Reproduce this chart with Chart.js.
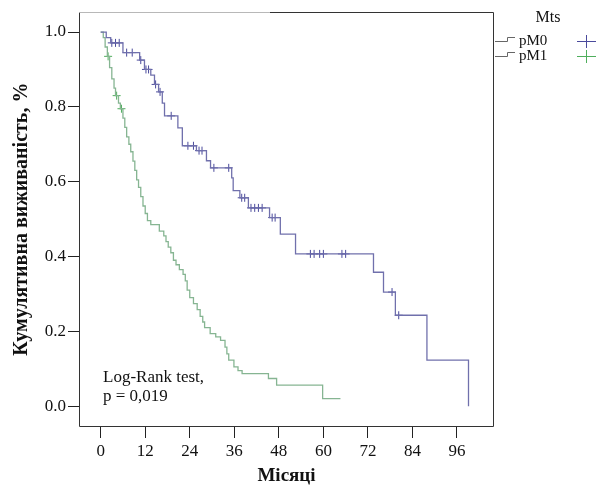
<!DOCTYPE html>
<html><head><meta charset="utf-8">
<script src="https://cdn.jsdelivr.net/npm/chart.js@4"></script>
<style>html,body{margin:0;padding:0;background:#fff}#wrap{width:601px;height:491px;position:relative}</style>
</head><body><div id="wrap"><canvas id="c" width="601" height="491"></canvas></div>
<script>
const xTicks = [0, 12, 24, 36, 48, 60, 72, 84, 96];
const yTicks = [0, 0.2, 0.4, 0.6, 0.8, 1.0];
const seriesNames = ['pM0', 'pM1'];
const legendTitle = 'Mts';
const xTitle = 'Місяці';
const yTitle = 'Кумулятивна виживаність, %';
const noteLines = ['Log-Rank test,', 'p = 0,019'];

// pM0: step points (time in months, cumulative survival)
const pm0Time = [0, 1.5, 2.7, 6, 10.5, 11.8, 13.5, 14.5, 15.6, 16.6, 17.2, 20.8, 22, 25.8, 28.5, 29.6, 35.3, 35.7, 37.5, 39.8, 45.5, 48.4, 52.5, 73.5, 76.2, 79.4, 87.9, 99.1];
const pm0Surv = [1.0, 0.985, 0.971, 0.945, 0.925, 0.90, 0.885, 0.86, 0.84, 0.81, 0.776, 0.744, 0.696, 0.683, 0.656, 0.637, 0.61, 0.576, 0.557, 0.53, 0.504, 0.46, 0.407, 0.358, 0.305, 0.243, 0.123, 0.0];
const pm0CensTime = [3, 4, 5, 7, 8.5, 10.8, 12.2, 12.9, 14.8, 16, 19, 23.5, 25, 26.5, 27.3, 30.5, 34.5, 38, 38.8, 40.5, 41.5, 42.5, 43.5, 46.2, 47, 56.5, 57.5, 59, 60, 65, 66, 78.5, 80.3];
const pm0CensSurv = [0.971, 0.971, 0.971, 0.945, 0.945, 0.925, 0.90, 0.90, 0.86, 0.84, 0.776, 0.696, 0.696, 0.683, 0.683, 0.637, 0.637, 0.557, 0.557, 0.53, 0.53, 0.53, 0.53, 0.504, 0.504, 0.407, 0.407, 0.407, 0.407, 0.407, 0.407, 0.305, 0.243];

// pM1
const pm1Time = [0, 0.7, 1.2, 1.8, 2.4, 3.0, 3.6, 4.0, 4.8, 5.3, 6.0, 6.5, 7.0, 7.6, 8.1, 8.7, 9.2, 9.7, 10.2, 10.8, 11.4, 12.0, 12.6, 13.5, 15.8, 17.0, 17.6, 18.2, 18.9, 19.6, 20.3, 21.2, 22.2, 22.8, 23.3, 24.0, 25.0, 26.0, 26.8, 27.5, 28.0, 29.5, 31.0, 32.3, 33.5, 34.0, 34.5, 35.9, 37.0, 38.1, 45.2, 47.4, 59.8, 64.6];
const pm1Surv = [1.0, 0.985, 0.96, 0.935, 0.905, 0.875, 0.85, 0.83, 0.81, 0.795, 0.77, 0.745, 0.72, 0.70, 0.68, 0.655, 0.63, 0.605, 0.585, 0.56, 0.535, 0.515, 0.496, 0.485, 0.468, 0.455, 0.44, 0.425, 0.41, 0.39, 0.378, 0.365, 0.352, 0.335, 0.31, 0.29, 0.274, 0.258, 0.24, 0.225, 0.21, 0.194, 0.185, 0.176, 0.158, 0.14, 0.123, 0.105, 0.095, 0.087, 0.074, 0.056, 0.02, 0.02];
const pm1CensTime = [2.0, 4.3, 5.6];
const pm1CensSurv = [0.935, 0.83, 0.795];

const pm0Color = '#7070ac';
const pm0Mark = '#4a4a9c';
const pm1Color = '#86b592';
const pm1Mark = '#4fae5c';

const zip = (a, b) => a.map((v, i) => ({x: v, y: b[i]}));
const serif = '"Liberation Serif", "DejaVu Serif", serif';

const framePlugin = {
  id: 'frame',
  afterDraw(chart) {
    const {ctx, chartArea: a} = chart;
    const L = Math.round(a.left) - 0.5, R = Math.round(a.right) + 0.5;
    const T = Math.round(a.top) + 0.5, B = Math.round(a.bottom) + 0.5;
    ctx.save();
    ctx.lineWidth = 1;
    ctx.strokeStyle = '#333';
    ctx.beginPath();
    ctx.moveTo(270, T); ctx.lineTo(R, T); ctx.lineTo(R, B); ctx.lineTo(L, B); ctx.lineTo(L, T);
    ctx.stroke();
    ctx.strokeStyle = '#b8b8b8';
    ctx.beginPath();
    ctx.moveTo(L, T); ctx.lineTo(270, T);
    ctx.stroke();
    // annotation
    ctx.fillStyle = '#111';
    ctx.font = '17px ' + serif;
    ctx.textAlign = 'left';
    ctx.textBaseline = 'middle';
    ctx.fillText(noteLines[0], 103, 378);
    ctx.fillText(noteLines[1], 103, 397);
    // legend
    ctx.font = '16px ' + serif;
    ctx.textAlign = 'center';
    ctx.fillText(legendTitle, 548, 18);
    const rows = [41, 56];
    const marks = [pm0Mark, pm1Mark];
    ctx.font = '15px ' + serif;
    ctx.textAlign = 'left';
    rows.forEach((y, i) => {
      ctx.strokeStyle = '#666';
      ctx.beginPath();
      ctx.moveTo(495, y + 0.5); ctx.lineTo(507.5, y + 0.5); ctx.lineTo(507.5, y - 3.5); ctx.lineTo(515, y - 3.5);
      ctx.stroke();
      ctx.fillStyle = '#111';
      ctx.fillText(seriesNames[i], 519, y);
      ctx.strokeStyle = marks[i];
      ctx.beginPath();
      ctx.moveTo(577, y + 0.5); ctx.lineTo(596, y + 0.5);
      ctx.moveTo(586.5, y - 6); ctx.lineTo(586.5, y + 7);
      ctx.stroke();
    });
    ctx.restore();
  }
};

new Chart(document.getElementById('c'), {
  type: 'line',
  data: {
    datasets: [
      {label: seriesNames[0], data: zip(pm0Time, pm0Surv), stepped: true, borderColor: pm0Color, borderWidth: 1.3, pointRadius: 0, fill: false},
      {label: seriesNames[1], data: zip(pm1Time, pm1Surv), stepped: true, borderColor: pm1Color, borderWidth: 1.3, pointRadius: 0, fill: false},
      {label: seriesNames[0] + ' censored', data: zip(pm0CensTime, pm0CensSurv), showLine: false, pointStyle: 'cross', pointRadius: 4, borderColor: pm0Mark, borderWidth: 1},
      {label: seriesNames[1] + ' censored', data: zip(pm1CensTime, pm1CensSurv), showLine: false, pointStyle: 'cross', pointRadius: 4, borderColor: pm1Mark, borderWidth: 1}
    ]
  },
  options: {
    responsive: false,
    devicePixelRatio: 1,
    animation: false,
    layout: {padding: {top: 11, right: 108, bottom: 0, left: 0}},
    plugins: {legend: {display: false}, tooltip: {enabled: false}},
    scales: {
      x: {
        type: 'linear', min: -5.57, max: 105.7,
        afterBuildTicks: s => { s.ticks = xTicks.map(v => ({value: v})); },
        afterFit: s => { s.height = 65; },
        border: {display: false},
        grid: {display: true, drawOnChartArea: false, drawTicks: true, tickLength: 12, color: '#222'},
        ticks: {padding: 3, color: '#111', font: {family: serif, size: 17}, maxRotation: 0, autoSkip: false, callback: v => String(v)},
        title: {display: true, text: xTitle, color: '#111', font: {family: serif, size: 19, weight: 'bold'}, padding: {top: 0, bottom: 4}}
      },
      y: {
        type: 'linear', min: -0.053, max: 1.053,
        afterBuildTicks: s => { s.ticks = yTicks.map(v => ({value: v})); },
        afterFit: s => { s.width = 80; },
        border: {display: false},
        grid: {display: true, drawOnChartArea: false, drawTicks: true, tickLength: 12, color: '#222'},
        ticks: {padding: 2, color: '#111', font: {family: serif, size: 17}, autoSkip: false, callback: v => Number(v).toFixed(1)},
        title: {display: true, text: yTitle, color: '#111', font: {family: serif, size: 20, weight: 'bold'}, padding: {top: 10, bottom: 0}}
      }
    }
  },
  plugins: [framePlugin]
});
</script></body></html>
